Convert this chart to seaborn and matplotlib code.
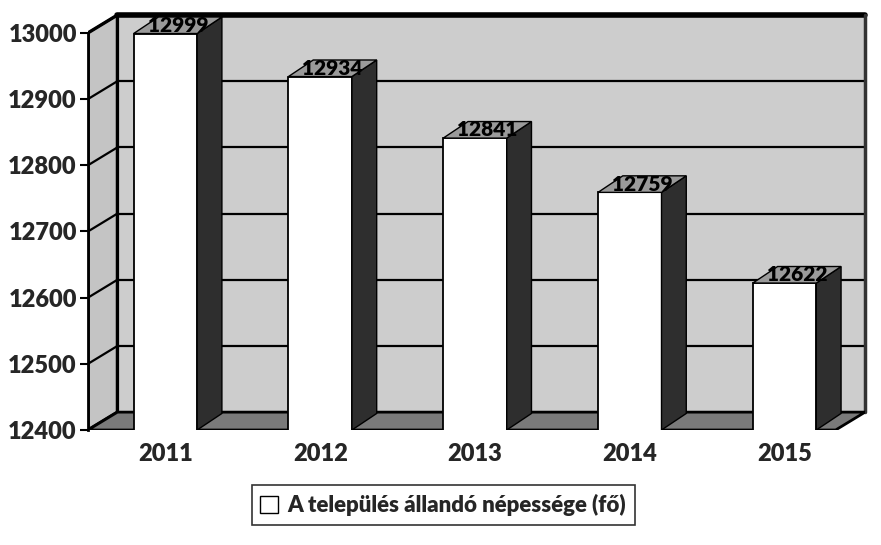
import matplotlib
matplotlib.use("Agg")
import matplotlib.pyplot as plt
import seaborn as sns
import pandas as pd
from matplotlib.patches import Polygon, Patch

# Adatok
years = ["2011", "2012", "2013", "2014", "2015"]
population = [12999, 12934, 12841, 12759, 12622]
series_label = "A település állandó népessége (fő)"
yticks = [12400, 12500, 12600, 12700, 12800, 12900, 13000]

sns.set_style("white")
plt.rcParams["font.family"] = ["Lato", "DejaVu Sans"]

df = pd.DataFrame({"year": years, "value": population})

fig = plt.figure(figsize=(8.81, 5.45), dpi=100)
ax = fig.add_axes([0.0999, 0.211, 0.8820, 0.7615])

# 3D hatás paraméterei (adategységben)
y0, ytop = 12400, 13027
xl, xr = -0.5, 4.52
dxw, dyw = 0.19, 27     # hátsó fal eltolása
dxb, dyb = 0.16, 25     # oszlopok mélysége
bw = 0.41

wall = "#cdcdcd"
# hátsó fal
ax.add_patch(Polygon([(xl + dxw, y0 + dyw), (xr, y0 + dyw), (xr, ytop), (xl + dxw, ytop)],
                     closed=True, facecolor=wall, edgecolor="none", zorder=0))
# bal oldali fal
ax.add_patch(Polygon([(xl, y0), (xl, 13000), (xl + dxw, ytop), (xl + dxw, y0 + dyw)],
                     closed=True, facecolor="#c4c4c4", edgecolor="black", lw=2.4, zorder=1))
# rácsvonalak
for v in yticks[1:]:
    ax.plot([xl + dxw, xr], [v + dyw, v + dyw], color="black", lw=1.6, zorder=1)
    ax.plot([xl, xl + dxw], [v, v + dyw], color="black", lw=1.6, zorder=1)
ax.plot([xl + dxw, xr], [ytop, ytop], color="black", lw=4, zorder=2, clip_on=False)
ax.plot([xr, xr], [y0 + dyw, ytop], color="#333333", lw=2.5, zorder=2, clip_on=False)

# padló
ax.add_patch(Polygon([(xl, y0), (xr - dxw, y0), (xr, y0 + dyw), (xl + dxw, y0 + dyw)],
                     closed=True, facecolor="#7a7a7a", edgecolor="black", lw=2, zorder=2))

# oszlopok előlapja
sns.barplot(data=df, x="year", y="value", color="white", edgecolor="black",
            linewidth=1.3, width=bw, saturation=1, ax=ax, zorder=3)

for i, v in enumerate(population):
    left, right = i - bw / 2, i + bw / 2
    ax.add_patch(Polygon([(right, y0), (right, v), (right + dxb, v + dyb), (right + dxb, y0 + dyb)],
                         closed=True, facecolor="#2e2e2e", edgecolor="black", lw=1, zorder=3))
    ax.add_patch(Polygon([(left, v), (right, v), (right + dxb, v + dyb), (left + dxb, v + dyb)],
                         closed=True, facecolor="#9a9a9a", edgecolor="black", lw=1, zorder=3))
    ax.text(i + dxb / 2, v + dyb / 2, str(v), ha="center", va="center",
            fontsize=15, fontweight="heavy", color="black", zorder=5)

ax.set_xlim(xl, xr)
ax.set_ylim(y0, ytop)
ax.set_yticks(yticks)
ax.set_yticklabels([str(t) for t in yticks], fontsize=17, fontweight="heavy")
ax.set_xticks(range(len(years)))
ax.set_xticklabels(years, fontsize=17, fontweight="heavy")
ax.tick_params(axis="y", length=6, width=1.5, color="black", pad=2, left=True)
ax.tick_params(axis="x", length=0, pad=9)
ax.set_xlabel("")
ax.set_ylabel("")
for s in ["top", "right", "bottom"]:
    ax.spines[s].set_visible(False)
ax.spines["left"].set_bounds(y0, 13000)
ax.spines["left"].set_linewidth(2)
ax.spines["left"].set_color("black")
ax.set_facecolor("white")

leg = fig.legend(handles=[Patch(facecolor="white", edgecolor="black", label=series_label)],
                 loc="center", bbox_to_anchor=(0.503, 0.073), frameon=True, fancybox=False,
                 handlelength=0.8, handleheight=0.8, handletextpad=0.4, borderpad=0.4,
                 prop={"weight": "heavy", "size": 16})
leg.get_frame().set_edgecolor("black")
leg.get_frame().set_linewidth(1.2)

fig.savefig("out.png", dpi=100)
